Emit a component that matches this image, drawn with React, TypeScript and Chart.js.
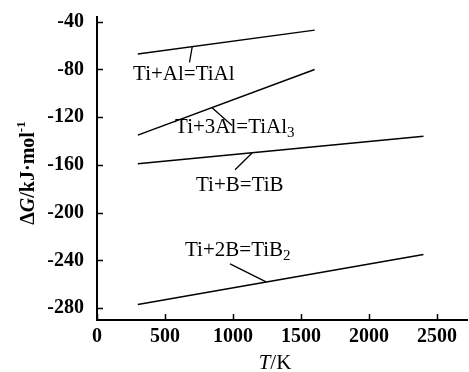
import React, { useEffect, useRef } from "react";
import { Chart, registerables } from "chart.js";

Chart.register(...registerables);

// Temperature (K) endpoints and ΔG (kJ/mol) values for each reaction
const tiAlT = [300, 1600];
const tiAlG = [-67, -47];
const tiAl3T = [300, 1600];
const tiAl3G = [-135, -80];
const tiBT = [300, 2400];
const tiBG = [-159, -136];
const tiB2T = [300, 2400];
const tiB2G = [-277, -235];

const xTicks = [0, 500, 1000, 1500, 2000, 2500];
const yTicks = [-40, -80, -120, -160, -200, -240, -280];

// label: [main text, subscript], anchor in data coords (left, baseline)
const labelTexts = [
  ["Ti+Al=TiAl", ""],
  ["Ti+3Al=TiAl", "3"],
  ["Ti+B=TiB", ""],
  ["Ti+2B=TiB", "2"],
];
const labelAnchors = [
  [265, -89],
  [574, -133],
  [728, -182],
  [647, -236],
];
// leader lines: [x1, y1, x2, y2] in data coords
const leaders = [
  [680, -74, 700, -61],
  [846, -112, 993, -127],
  [1140, -150, 1015, -164],
  [978, -243, 1243, -258],
];

const SERIF = "'Liberation Serif', 'Times New Roman', serif";

const toPts = (xs: number[], ys: number[]) => xs.map((x, i) => ({ x, y: ys[i] }));

const overlay = {
  id: "overlay",
  afterDraw(chart: any) {
    const ctx = chart.ctx as CanvasRenderingContext2D;
    const xs = chart.scales.x;
    const ys = chart.scales.y;
    const area = chart.chartArea;
    ctx.save();
    ctx.strokeStyle = "#000";
    ctx.fillStyle = "#000";
    // inward ticks
    ctx.lineWidth = 1.5;
    ctx.beginPath();
    for (const v of yTicks) {
      const p = Math.round(ys.getPixelForValue(v)) + 0.5;
      ctx.moveTo(area.left, p);
      ctx.lineTo(area.left + 6, p);
    }
    for (const v of xTicks) {
      const p = Math.round(xs.getPixelForValue(v)) + 0.5;
      ctx.moveTo(p, area.bottom);
      ctx.lineTo(p, area.bottom - 6);
    }
    ctx.stroke();

    // leaders
    ctx.lineWidth = 1.3;
    ctx.beginPath();
    for (const [x1, y1, x2, y2] of leaders) {
      ctx.moveTo(xs.getPixelForValue(x1), ys.getPixelForValue(y1));
      ctx.lineTo(xs.getPixelForValue(x2), ys.getPixelForValue(y2));
    }
    ctx.stroke();

    // labels
    ctx.textBaseline = "alphabetic";
    ctx.textAlign = "left";
    labelTexts.forEach(([main, sub], i) => {
      const px = xs.getPixelForValue(labelAnchors[i][0]);
      const py = ys.getPixelForValue(labelAnchors[i][1]);
      ctx.font = `21px ${SERIF}`;
      ctx.fillText(main, px, py);
      if (sub) {
        const w = ctx.measureText(main).width;
        ctx.font = `15px ${SERIF}`;
        ctx.fillText(sub, px + w, py + 4);
      }
    });

    // x title: T/K
    {
      const cx = 275;
      const by = 369;
      ctx.font = `italic 21px ${SERIF}`;
      const wT = ctx.measureText("T").width;
      ctx.font = `21px ${SERIF}`;
      const wR = ctx.measureText("/K").width;
      const start = cx - (wT + wR) / 2;
      ctx.font = `italic 21px ${SERIF}`;
      ctx.fillText("T", start, by);
      ctx.font = `21px ${SERIF}`;
      ctx.fillText("/K", start + wT, by);
    }

    // y title: ΔG/kJ·mol^-1
    {
      ctx.translate(34, 173);
      ctx.rotate(-Math.PI / 2);
      const parts: [string, string, number][] = [
        ["Δ", `bold 20px ${SERIF}`, 0],
        ["G", `bold italic 20px ${SERIF}`, 0],
        ["/kJ·mol", `bold 20px ${SERIF}`, 0],
        ["-1", `bold 13px ${SERIF}`, -9],
      ];
      let total = 0;
      for (const [t, f] of parts) {
        ctx.font = f;
        total += ctx.measureText(t).width;
      }
      let x = -total / 2;
      for (const [t, f, dy] of parts) {
        ctx.font = f;
        ctx.fillText(t, x, dy);
        x += ctx.measureText(t).width;
      }
    }
    ctx.restore();
  },
};

export default function App() {
  const ref = useRef<HTMLCanvasElement>(null);
  useEffect(() => {
    if (!ref.current) return;
    const mk = (data: any[]) => ({
      data,
      showLine: true,
      borderColor: "#000",
      borderWidth: 1.5,
      pointRadius: 0,
      fill: false,
    });
    const chart = new Chart(ref.current, {
      type: "scatter",
      data: {
        datasets: [
          mk(toPts(tiAlT, tiAlG)),
          mk(toPts(tiAl3T, tiAl3G)),
          mk(toPts(tiBT, tiBG)),
          mk(toPts(tiB2T, tiB2G)),
        ],
      },
      options: {
        animation: false,
        responsive: false,
        events: [],
        layout: { padding: { left: 0, top: 8, right: 2, bottom: 0 } },
        plugins: { legend: { display: false }, tooltip: { enabled: false } },
        scales: {
          x: {
            type: "linear",
            min: 0,
            max: 2720,
            grid: { display: false },
            border: { display: true, color: "#000", width: 2 },
            ticks: {
              color: "#000",
              padding: -3,
              maxRotation: 0,
              autoSkip: false,
              font: { family: SERIF, size: 20, weight: "bold" },
              callback: (v: any) => String(v),
            },
            afterBuildTicks: (s: any) => {
              s.ticks = xTicks.map((v) => ({ value: v }));
            },
            afterFit: (s: any) => {
              s.height = 52;
            },
          },
          y: {
            type: "linear",
            min: -290,
            max: -36,
            grid: { display: false },
            border: { display: true, color: "#000", width: 2 },
            ticks: {
              color: "#000",
              padding: 5,
              autoSkip: false,
              font: { family: SERIF, size: 20, weight: "bold" },
              callback: (v: any) => String(v),
            },
            afterBuildTicks: (s: any) => {
              s.ticks = yTicks.map((v) => ({ value: v }));
            },
            afterFit: (s: any) => {
              s.width = 97;
            },
          },
        },
      },
      plugins: [overlay],
    });
    return () => chart.destroy();
  }, []);
  return (
    <div style={{ position: "absolute", left: 0, top: 0, width: 469, height: 372, background: "#fff" }}>
      <canvas ref={ref} width={469} height={372} />
    </div>
  );
}
